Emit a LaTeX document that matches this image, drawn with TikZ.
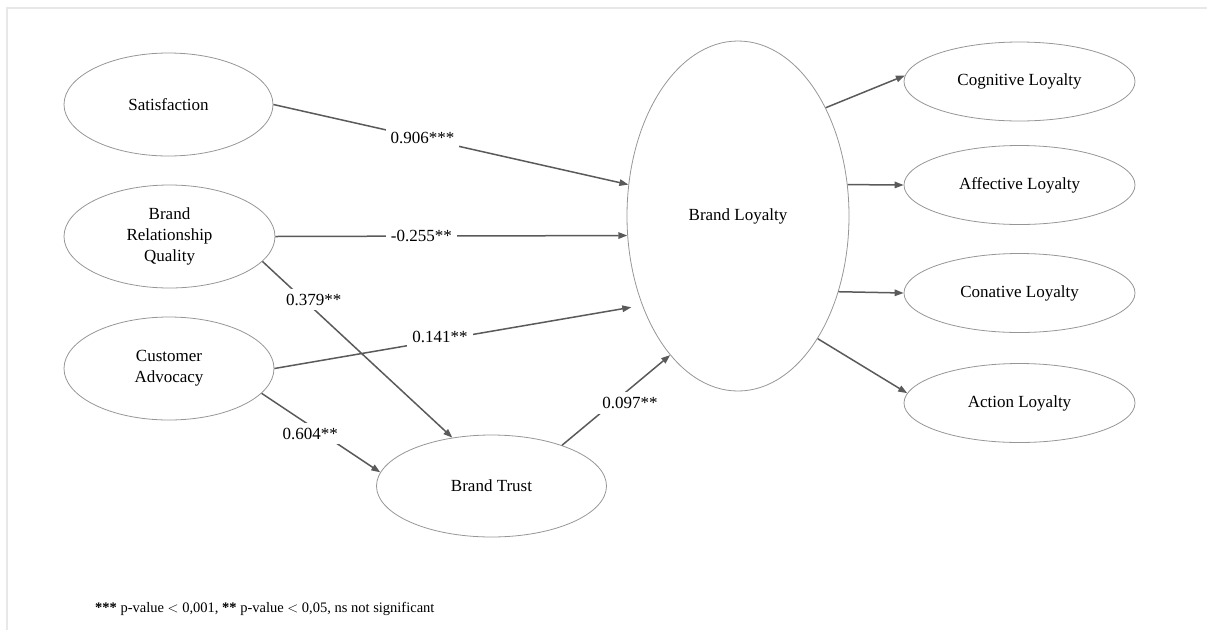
\documentclass[tikz,border=0pt]{standalone}
\usepackage{fontspec}
\setmainfont{Liberation Serif}
\usetikzlibrary{arrows.meta,shapes.geometric,positioning}
\definecolor{rim}{RGB}{150,150,150}
\definecolor{arw}{RGB}{90,90,90}
\definecolor{frm}{RGB}{232,232,232}

\begin{document}
\begin{tikzpicture}[x=1pt,y=-1pt,
    var/.style={ellipse,draw=rim,line width=0.8pt,inner sep=0pt,align=center,
      font=\fontsize{17}{21}\selectfont},
    link/.style={draw=arw,line width=1.5pt,-{Triangle[length=9pt,width=6.5pt]}},
    coef/.style={fill=white,inner sep=5pt,font=\fontsize{17}{21}\selectfont}]
    \useasboundingbox (0,0) rectangle (1207,630);
    \draw[frm,line width=2pt] (7,630) -- (7,8) -- (1207,8);

    \node[var,minimum width=209,minimum height=103] (sat) at (168.5,104.5) {Satisfaction};
    \node[var,minimum width=211,minimum height=103] (brq) at (169.5,236.5) {Brand\\Relationship\\Quality};
    \node[var,minimum width=210,minimum height=103] (ca) at (169,368.5) {Customer\\Advocacy};
    \node[var,minimum width=230,minimum height=102] (trust) at (491.5,486) {Brand Trust};
    \node[var,minimum width=222,minimum height=350] (bl) at (738,216) {Brand Loyalty};
    \foreach \y/\nm/\lbl in {81.5/cog/Cognitive Loyalty,185/aff/Affective Loyalty,
      293/con/Conative Loyalty,403/act/Action Loyalty}{
      \node[var,minimum width=231,minimum height=79] (\nm) at (1019.5,\y) {\lbl};
    }

    \draw[link] (sat.east) -- node[coef,pos=0.42] {0.906***} (bl.164);
    \draw[link] (brq.east) -- node[coef,pos=0.415] {-0.255**} (bl.190);
    \draw[link] (brq.-15) -- node[coef,pos=0.217,xshift=10pt] {0.379**} (trust.129);
    \draw[link,shorten >=11pt] (ca.east) -- node[coef,pos=0.45,yshift=3pt] {0.141**} (bl.223);
    \draw[link] (ca.-15) -- node[coef,pos=0.41,yshift=-8pt] {0.604**} (trust.173);
    \draw[link] (trust.30) -- node[coef,pos=0.5,xshift=14pt,yshift=-3pt] {0.097**} (bl.244);

    \draw[link] (bl.51) -- (cog.177);
    \draw[link] (bl.16) -- (aff.west);
    \draw[link] (bl.-37) -- (con.west);
    \draw[link] (bl.-57.5) -- (act.175);

    \node[anchor=west,inner sep=0pt,font=\fontsize{14.5}{16}\selectfont] (note) at (95,609)
      {\textbf{***} p-value $<$ 0,001, \textbf{**} p-value $<$ 0,05, ns not significant};
\end{tikzpicture}
\end{document}
